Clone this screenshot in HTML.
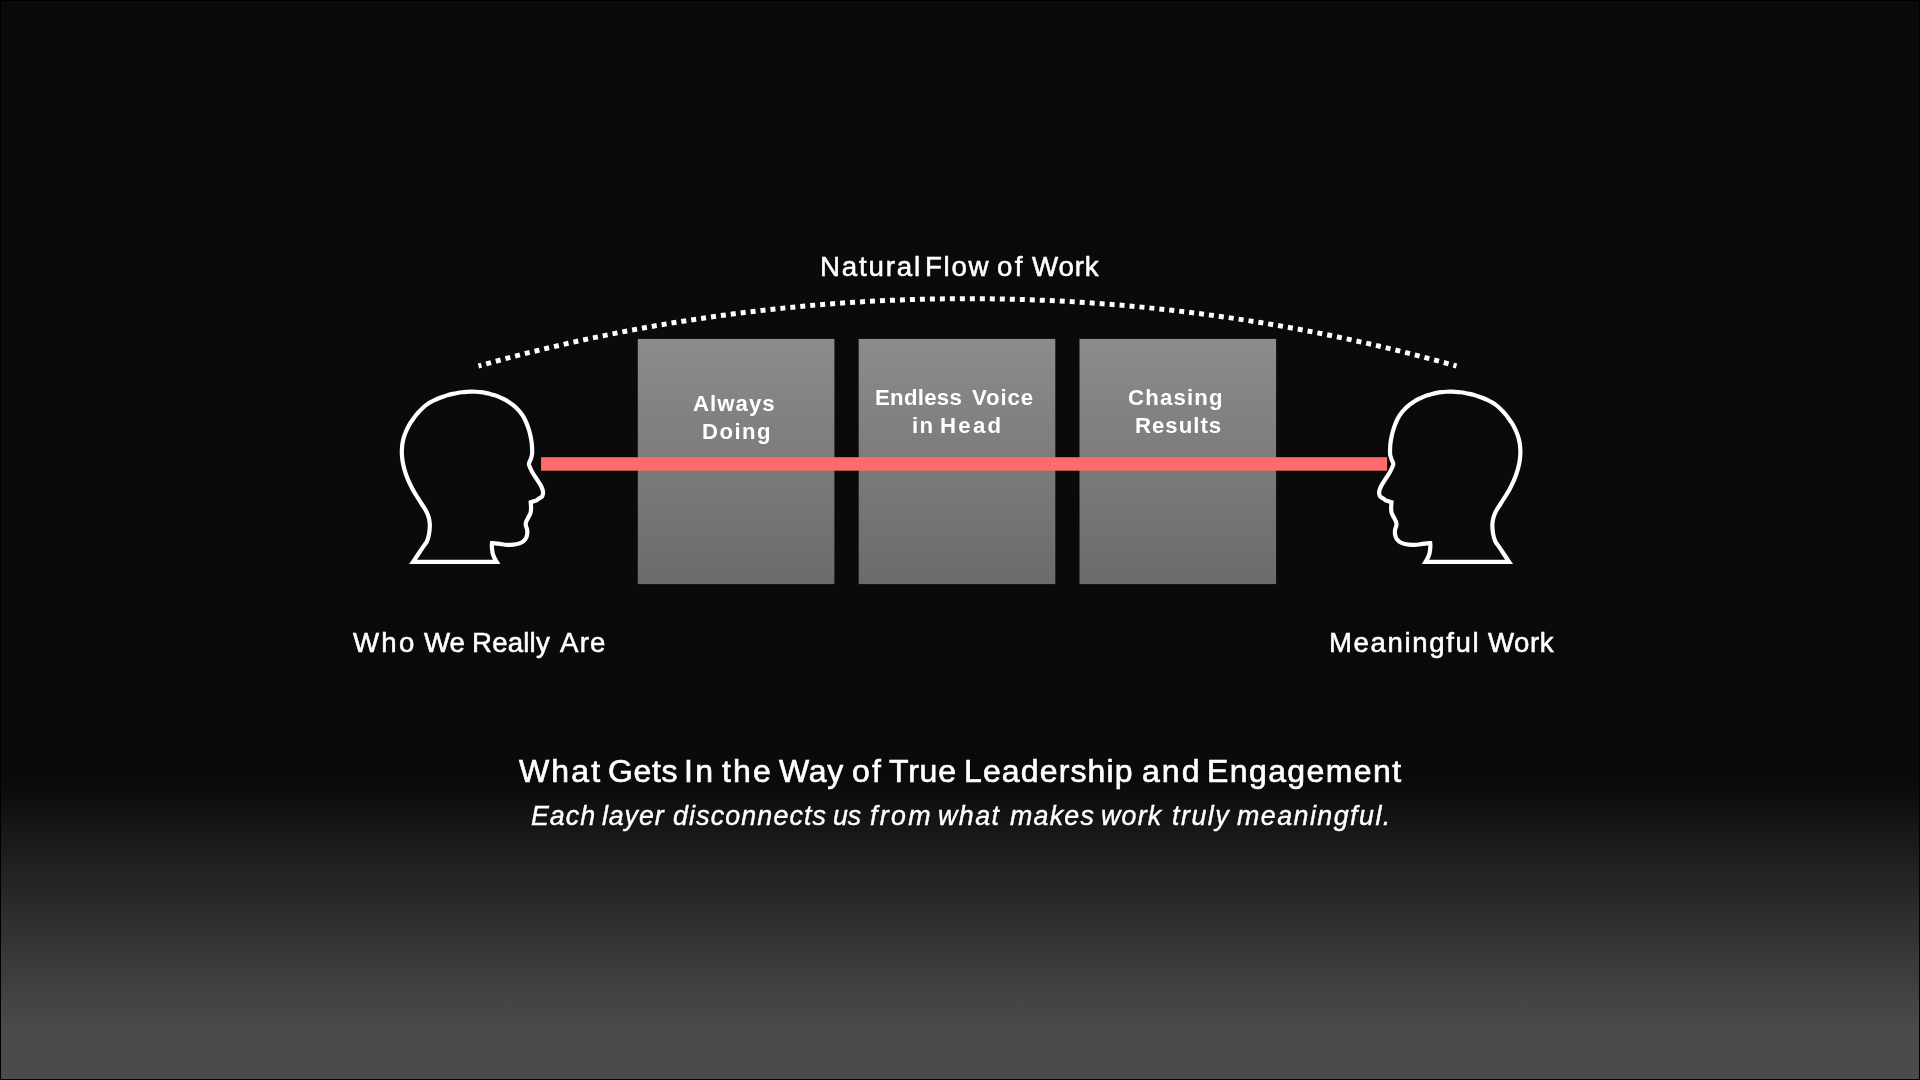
<!DOCTYPE html>
<html><head><meta charset="utf-8"><title>Natural Flow of Work</title>
<style>
html,body{margin:0;padding:0;}
body{width:1920px;height:1080px;overflow:hidden;position:relative;background:#0a0a0a;font-family:"Liberation Sans",sans-serif;color:#fff;}
#bg{position:absolute;left:0;top:0;width:1920px;height:1080px;background:linear-gradient(to bottom,#0a0a0a 0px,#0a0a0a 780px,#4b4b4b 1028px,#4b4b4b 1080px);box-sizing:border-box;border:1px solid #000;}
svg{position:absolute;left:0;top:0;}
.t{position:absolute;white-space:nowrap;line-height:1;transform-origin:0 0;will-change:transform;}
</style></head><body>
<div id="bg"></div>
<svg width="1920" height="1080" viewBox="0 0 1920 1080">
<defs><linearGradient id="bx" x1="0" y1="0" x2="0" y2="1"><stop offset="0" stop-color="#8c8c8c"/><stop offset="1" stop-color="#6b6b6b"/></linearGradient></defs>
<rect x="637.8" y="338.9" width="196.6" height="245.2" fill="url(#bx)"/>
<rect x="858.7" y="338.9" width="196.6" height="245.2" fill="url(#bx)"/>
<rect x="1079.5" y="338.9" width="196.6" height="245.2" fill="url(#bx)"/>
<rect x="541" y="457.2" width="846.1" height="13.5" fill="#ff6b6b"/>
<path d="M478.50 366.00 A1810.18 1810.18 0 0 1 1456.50 366.00" fill="none" stroke="#fff" stroke-width="5" stroke-dasharray="5 4.99" stroke-dashoffset="2"/>
<path d="M413.10 561.85 L496.70 561.85 C496.03 560.73 495.27 559.60 494.70 558.50 C494.18 557.49 493.76 556.46 493.40 555.50 C493.08 554.64 492.82 553.97 492.60 553.00 C492.31 551.73 492.13 549.85 492.00 548.50 C491.89 547.40 491.79 546.43 491.80 545.50 C491.81 544.68 491.93 543.97 492.00 543.20 C493.10 543.23 494.11 543.21 495.30 543.30 C496.73 543.41 498.41 543.66 500.00 543.90 C501.64 544.14 503.33 544.60 505.00 544.75 C506.66 544.90 508.26 544.88 510.00 544.80 C511.91 544.71 514.02 544.62 516.00 544.20 C518.02 543.78 520.49 543.08 522.00 542.25 C523.08 541.66 523.78 540.99 524.50 540.20 C525.22 539.41 525.85 538.50 526.30 537.50 C526.77 536.44 527.06 535.25 527.20 534.00 C527.36 532.60 527.32 530.77 527.10 529.50 C526.93 528.53 526.48 527.86 526.25 527.00 C526.01 526.12 525.71 525.17 525.70 524.30 C525.69 523.50 525.85 522.80 526.10 522.00 C526.40 521.05 527.00 519.99 527.50 519.00 C528.00 517.99 528.60 517.01 529.10 516.00 C529.60 515.01 530.18 514.05 530.50 513.00 C530.82 511.95 530.92 510.81 531.00 509.70 C531.08 508.58 531.04 507.48 531.00 506.30 C530.95 505.01 530.80 503.60 530.70 502.25 C531.47 501.97 532.18 501.66 533.00 501.40 C533.93 501.11 535.04 501.06 536.00 500.60 C537.05 500.10 537.98 499.06 539.00 498.40 C539.98 497.76 541.33 497.51 542.00 496.70 C542.64 495.92 542.86 494.69 543.00 493.70 C543.13 492.79 543.10 492.00 542.90 491.00 C542.64 489.67 541.94 487.97 541.25 486.50 C540.52 484.97 539.52 483.49 538.60 482.00 C537.67 480.49 536.67 479.00 535.70 477.50 C534.73 476.00 533.68 474.52 532.80 473.00 C531.95 471.52 531.17 469.98 530.50 468.50 C529.88 467.12 529.00 465.54 528.90 464.40 C528.83 463.63 529.07 463.11 529.30 462.40 C529.59 461.51 530.19 460.59 530.60 459.50 C531.09 458.18 531.71 456.57 531.97 455.01 C532.24 453.39 532.15 451.65 532.14 449.97 C532.13 448.29 532.04 446.60 531.89 444.93 C531.74 443.25 531.52 441.58 531.25 439.91 C530.98 438.25 530.64 436.59 530.26 434.94 C529.88 433.30 529.44 431.66 528.96 430.03 C528.47 428.40 527.95 426.78 527.35 425.18 C526.75 423.59 526.10 422.00 525.35 420.46 C524.61 418.92 523.79 417.40 522.88 415.95 C521.97 414.50 520.96 413.10 519.88 411.77 C518.79 410.45 517.61 409.19 516.38 408.00 C515.16 406.82 513.85 405.71 512.51 404.66 C511.17 403.62 509.76 402.65 508.33 401.74 C506.91 400.83 505.44 400.00 503.95 399.22 C502.47 398.45 500.96 397.73 499.43 397.08 C497.91 396.43 496.36 395.84 494.81 395.31 C493.26 394.79 491.69 394.32 490.11 393.91 C488.54 393.50 486.96 393.15 485.38 392.85 C483.80 392.56 482.21 392.32 480.63 392.13 C479.05 391.95 477.47 391.82 475.89 391.73 C474.32 391.65 472.74 391.62 471.17 391.63 C469.61 391.65 468.05 391.71 466.50 391.82 C464.95 391.92 463.40 392.08 461.86 392.27 C460.33 392.46 458.80 392.69 457.28 392.97 C455.76 393.24 454.25 393.55 452.75 393.90 C451.24 394.25 449.74 394.63 448.26 395.05 C446.76 395.47 445.28 395.93 443.80 396.42 C442.32 396.91 440.84 397.43 439.38 398.00 C437.91 398.58 436.45 399.18 435.02 399.85 C433.58 400.53 432.15 401.25 430.77 402.05 C429.39 402.86 428.03 403.73 426.73 404.67 C425.43 405.62 424.18 406.65 422.98 407.72 C421.78 408.79 420.63 409.94 419.53 411.11 C418.42 412.29 417.36 413.52 416.34 414.78 C415.31 416.04 414.32 417.34 413.37 418.66 C412.42 419.99 411.50 421.35 410.62 422.74 C409.75 424.13 408.91 425.56 408.14 427.02 C407.36 428.48 406.63 429.98 405.98 431.51 C405.33 433.04 404.73 434.61 404.22 436.20 C403.71 437.79 403.27 439.42 402.92 441.05 C402.57 442.69 402.31 444.36 402.13 446.03 C401.95 447.70 401.86 449.38 401.84 451.06 C401.82 452.74 401.88 454.43 402.00 456.10 C402.13 457.77 402.33 459.45 402.59 461.10 C402.85 462.76 403.18 464.41 403.56 466.04 C403.94 467.67 404.38 469.29 404.87 470.90 C405.35 472.50 405.89 474.09 406.47 475.66 C407.05 477.24 407.67 478.79 408.33 480.34 C408.99 481.89 409.70 483.43 410.43 484.95 C411.16 486.48 411.86 487.94 412.73 489.52 C413.69 491.28 414.90 493.22 416.00 495.00 C417.06 496.71 418.17 498.37 419.20 500.00 C420.17 501.54 421.04 503.01 422.00 504.50 C422.97 506.01 424.06 507.36 425.00 509.00 C426.04 510.82 427.18 513.11 427.90 515.00 C428.51 516.58 428.88 517.99 429.20 519.50 C429.51 520.99 429.72 522.50 429.80 524.00 C429.88 525.50 429.80 527.00 429.70 528.50 C429.60 530.00 429.44 531.51 429.20 533.00 C428.96 534.51 428.68 536.02 428.25 537.50 C427.81 539.02 427.29 540.70 426.60 542.00 C426.00 543.12 425.25 543.84 424.50 544.90 C423.60 546.17 422.56 547.68 421.60 549.10 C420.63 550.54 419.68 552.03 418.70 553.50 C417.71 554.99 416.67 556.56 415.70 558.00 C414.80 559.33 413.97 560.57 413.10 561.85 Z" fill="none" stroke="#fff" stroke-width="4.2" stroke-linejoin="miter" stroke-miterlimit="10"/>
<path d="M413.10 561.85 L496.70 561.85 C496.03 560.73 495.27 559.60 494.70 558.50 C494.18 557.49 493.76 556.46 493.40 555.50 C493.08 554.64 492.82 553.97 492.60 553.00 C492.31 551.73 492.13 549.85 492.00 548.50 C491.89 547.40 491.79 546.43 491.80 545.50 C491.81 544.68 491.93 543.97 492.00 543.20 C493.10 543.23 494.11 543.21 495.30 543.30 C496.73 543.41 498.41 543.66 500.00 543.90 C501.64 544.14 503.33 544.60 505.00 544.75 C506.66 544.90 508.26 544.88 510.00 544.80 C511.91 544.71 514.02 544.62 516.00 544.20 C518.02 543.78 520.49 543.08 522.00 542.25 C523.08 541.66 523.78 540.99 524.50 540.20 C525.22 539.41 525.85 538.50 526.30 537.50 C526.77 536.44 527.06 535.25 527.20 534.00 C527.36 532.60 527.32 530.77 527.10 529.50 C526.93 528.53 526.48 527.86 526.25 527.00 C526.01 526.12 525.71 525.17 525.70 524.30 C525.69 523.50 525.85 522.80 526.10 522.00 C526.40 521.05 527.00 519.99 527.50 519.00 C528.00 517.99 528.60 517.01 529.10 516.00 C529.60 515.01 530.18 514.05 530.50 513.00 C530.82 511.95 530.92 510.81 531.00 509.70 C531.08 508.58 531.04 507.48 531.00 506.30 C530.95 505.01 530.80 503.60 530.70 502.25 C531.47 501.97 532.18 501.66 533.00 501.40 C533.93 501.11 535.04 501.06 536.00 500.60 C537.05 500.10 537.98 499.06 539.00 498.40 C539.98 497.76 541.33 497.51 542.00 496.70 C542.64 495.92 542.86 494.69 543.00 493.70 C543.13 492.79 543.10 492.00 542.90 491.00 C542.64 489.67 541.94 487.97 541.25 486.50 C540.52 484.97 539.52 483.49 538.60 482.00 C537.67 480.49 536.67 479.00 535.70 477.50 C534.73 476.00 533.68 474.52 532.80 473.00 C531.95 471.52 531.17 469.98 530.50 468.50 C529.88 467.12 529.00 465.54 528.90 464.40 C528.83 463.63 529.07 463.11 529.30 462.40 C529.59 461.51 530.19 460.59 530.60 459.50 C531.09 458.18 531.71 456.57 531.97 455.01 C532.24 453.39 532.15 451.65 532.14 449.97 C532.13 448.29 532.04 446.60 531.89 444.93 C531.74 443.25 531.52 441.58 531.25 439.91 C530.98 438.25 530.64 436.59 530.26 434.94 C529.88 433.30 529.44 431.66 528.96 430.03 C528.47 428.40 527.95 426.78 527.35 425.18 C526.75 423.59 526.10 422.00 525.35 420.46 C524.61 418.92 523.79 417.40 522.88 415.95 C521.97 414.50 520.96 413.10 519.88 411.77 C518.79 410.45 517.61 409.19 516.38 408.00 C515.16 406.82 513.85 405.71 512.51 404.66 C511.17 403.62 509.76 402.65 508.33 401.74 C506.91 400.83 505.44 400.00 503.95 399.22 C502.47 398.45 500.96 397.73 499.43 397.08 C497.91 396.43 496.36 395.84 494.81 395.31 C493.26 394.79 491.69 394.32 490.11 393.91 C488.54 393.50 486.96 393.15 485.38 392.85 C483.80 392.56 482.21 392.32 480.63 392.13 C479.05 391.95 477.47 391.82 475.89 391.73 C474.32 391.65 472.74 391.62 471.17 391.63 C469.61 391.65 468.05 391.71 466.50 391.82 C464.95 391.92 463.40 392.08 461.86 392.27 C460.33 392.46 458.80 392.69 457.28 392.97 C455.76 393.24 454.25 393.55 452.75 393.90 C451.24 394.25 449.74 394.63 448.26 395.05 C446.76 395.47 445.28 395.93 443.80 396.42 C442.32 396.91 440.84 397.43 439.38 398.00 C437.91 398.58 436.45 399.18 435.02 399.85 C433.58 400.53 432.15 401.25 430.77 402.05 C429.39 402.86 428.03 403.73 426.73 404.67 C425.43 405.62 424.18 406.65 422.98 407.72 C421.78 408.79 420.63 409.94 419.53 411.11 C418.42 412.29 417.36 413.52 416.34 414.78 C415.31 416.04 414.32 417.34 413.37 418.66 C412.42 419.99 411.50 421.35 410.62 422.74 C409.75 424.13 408.91 425.56 408.14 427.02 C407.36 428.48 406.63 429.98 405.98 431.51 C405.33 433.04 404.73 434.61 404.22 436.20 C403.71 437.79 403.27 439.42 402.92 441.05 C402.57 442.69 402.31 444.36 402.13 446.03 C401.95 447.70 401.86 449.38 401.84 451.06 C401.82 452.74 401.88 454.43 402.00 456.10 C402.13 457.77 402.33 459.45 402.59 461.10 C402.85 462.76 403.18 464.41 403.56 466.04 C403.94 467.67 404.38 469.29 404.87 470.90 C405.35 472.50 405.89 474.09 406.47 475.66 C407.05 477.24 407.67 478.79 408.33 480.34 C408.99 481.89 409.70 483.43 410.43 484.95 C411.16 486.48 411.86 487.94 412.73 489.52 C413.69 491.28 414.90 493.22 416.00 495.00 C417.06 496.71 418.17 498.37 419.20 500.00 C420.17 501.54 421.04 503.01 422.00 504.50 C422.97 506.01 424.06 507.36 425.00 509.00 C426.04 510.82 427.18 513.11 427.90 515.00 C428.51 516.58 428.88 517.99 429.20 519.50 C429.51 520.99 429.72 522.50 429.80 524.00 C429.88 525.50 429.80 527.00 429.70 528.50 C429.60 530.00 429.44 531.51 429.20 533.00 C428.96 534.51 428.68 536.02 428.25 537.50 C427.81 539.02 427.29 540.70 426.60 542.00 C426.00 543.12 425.25 543.84 424.50 544.90 C423.60 546.17 422.56 547.68 421.60 549.10 C420.63 550.54 419.68 552.03 418.70 553.50 C417.71 554.99 416.67 556.56 415.70 558.00 C414.80 559.33 413.97 560.57 413.10 561.85 Z" transform="translate(1922.2 0) scale(-1 1)" fill="none" stroke="#fff" stroke-width="4.2" stroke-linejoin="miter" stroke-miterlimit="10"/>
</svg>
<div class="t" style="left:820.44px;top:252.50px;font-size:27.70px;letter-spacing:1.825px;-webkit-text-stroke:0.55px #fff;">Natural</div>
<div class="t" style="left:925.40px;top:252.50px;font-size:27.70px;letter-spacing:1.673px;-webkit-text-stroke:0.55px #fff;">Flow</div>
<div class="t" style="left:997.39px;top:252.50px;font-size:27.70px;letter-spacing:2.300px;-webkit-text-stroke:0.55px #fff;">of</div>
<div class="t" style="left:1031.58px;top:252.50px;font-size:27.70px;letter-spacing:0.835px;-webkit-text-stroke:0.55px #fff;">Work</div>
<div class="t" style="left:353.03px;top:629.20px;font-size:27.60px;letter-spacing:2.260px;-webkit-text-stroke:0.55px #fff;">Who</div>
<div class="t" style="left:424.31px;top:629.20px;font-size:27.60px;letter-spacing:-0.153px;-webkit-text-stroke:0.55px #fff;">We</div>
<div class="t" style="left:472.32px;top:629.20px;font-size:27.60px;letter-spacing:0.209px;-webkit-text-stroke:0.55px #fff;">Really</div>
<div class="t" style="left:560.26px;top:629.20px;font-size:27.60px;letter-spacing:1.236px;-webkit-text-stroke:0.55px #fff;">Are</div>
<div class="t" style="left:1329.30px;top:629.20px;font-size:27.60px;letter-spacing:1.614px;-webkit-text-stroke:0.55px #fff;">Meaningful</div>
<div class="t" style="left:1488.20px;top:629.20px;font-size:27.60px;letter-spacing:0.545px;-webkit-text-stroke:0.55px #fff;">Work</div>
<div class="t" style="left:518.53px;top:754.50px;font-size:32.00px;letter-spacing:2.124px;-webkit-text-stroke:0.65px #fff;">What</div>
<div class="t" style="left:607.84px;top:754.50px;font-size:32.00px;letter-spacing:0.650px;-webkit-text-stroke:0.65px #fff;">Gets</div>
<div class="t" style="left:683.91px;top:754.50px;font-size:32.00px;letter-spacing:2.241px;-webkit-text-stroke:0.65px #fff;">In</div>
<div class="t" style="left:721.53px;top:754.50px;font-size:32.00px;letter-spacing:2.114px;-webkit-text-stroke:0.65px #fff;">the</div>
<div class="t" style="left:778.74px;top:754.50px;font-size:32.00px;letter-spacing:0.690px;-webkit-text-stroke:0.65px #fff;">Way</div>
<div class="t" style="left:851.74px;top:754.50px;font-size:32.00px;letter-spacing:2.300px;-webkit-text-stroke:0.65px #fff;">of</div>
<div class="t" style="left:889.03px;top:754.50px;font-size:32.00px;letter-spacing:0.797px;-webkit-text-stroke:0.65px #fff;">True</div>
<div class="t" style="left:964.34px;top:754.50px;font-size:32.00px;letter-spacing:1.134px;-webkit-text-stroke:0.65px #fff;">Leadership</div>
<div class="t" style="left:1141.86px;top:754.50px;font-size:32.00px;letter-spacing:2.026px;-webkit-text-stroke:0.65px #fff;">and</div>
<div class="t" style="left:1207.10px;top:754.50px;font-size:32.00px;letter-spacing:1.397px;-webkit-text-stroke:0.65px #fff;">Engagement</div>
<div class="t" style="left:530.58px;top:802.70px;font-size:26.80px;letter-spacing:0.984px;-webkit-text-stroke:0.4px #fff;font-style:italic;">Each</div>
<div class="t" style="left:601.95px;top:802.70px;font-size:26.80px;letter-spacing:0.878px;-webkit-text-stroke:0.4px #fff;font-style:italic;">layer</div>
<div class="t" style="left:672.73px;top:802.70px;font-size:26.80px;letter-spacing:1.145px;-webkit-text-stroke:0.4px #fff;font-style:italic;">disconnects</div>
<div class="t" style="left:833.46px;top:802.70px;font-size:26.80px;letter-spacing:-0.055px;-webkit-text-stroke:0.4px #fff;font-style:italic;">us</div>
<div class="t" style="left:869.57px;top:802.70px;font-size:26.80px;letter-spacing:2.300px;-webkit-text-stroke:0.4px #fff;font-style:italic;">from</div>
<div class="t" style="left:938.12px;top:802.70px;font-size:26.80px;letter-spacing:1.483px;-webkit-text-stroke:0.4px #fff;font-style:italic;">what</div>
<div class="t" style="left:1009.78px;top:802.70px;font-size:26.80px;letter-spacing:1.225px;-webkit-text-stroke:0.4px #fff;font-style:italic;">makes</div>
<div class="t" style="left:1101.22px;top:802.70px;font-size:26.80px;letter-spacing:1.221px;-webkit-text-stroke:0.4px #fff;font-style:italic;">work</div>
<div class="t" style="left:1171.59px;top:802.70px;font-size:26.80px;letter-spacing:1.506px;-webkit-text-stroke:0.4px #fff;font-style:italic;">truly</div>
<div class="t" style="left:1236.77px;top:802.70px;font-size:26.80px;letter-spacing:1.474px;-webkit-text-stroke:0.4px #fff;font-style:italic;">meaningful.</div>
<div class="t" style="left:693.08px;top:392.80px;font-size:22.20px;letter-spacing:1.045px;font-weight:bold;">Always</div>
<div class="t" style="left:702.26px;top:420.75px;font-size:22.20px;letter-spacing:1.408px;font-weight:bold;">Doing</div>
<div class="t" style="left:874.64px;top:387.40px;font-size:22.20px;letter-spacing:0.290px;font-weight:bold;">Endless</div>
<div class="t" style="left:971.63px;top:387.40px;font-size:22.20px;letter-spacing:0.862px;font-weight:bold;">Voice</div>
<div class="t" style="left:912.15px;top:415.00px;font-size:22.20px;letter-spacing:1.437px;font-weight:bold;">in</div>
<div class="t" style="left:939.91px;top:415.00px;font-size:22.20px;letter-spacing:2.300px;font-weight:bold;">Head</div>
<div class="t" style="left:1127.75px;top:387.20px;font-size:22.20px;letter-spacing:1.167px;font-weight:bold;">Chasing</div>
<div class="t" style="left:1134.83px;top:415.20px;font-size:22.20px;letter-spacing:1.002px;font-weight:bold;">Results</div>

</body></html>
